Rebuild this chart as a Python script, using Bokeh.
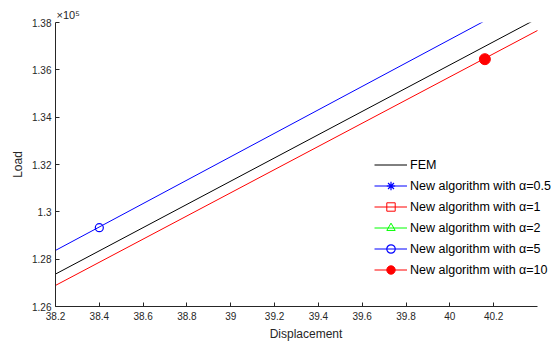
from bokeh.plotting import figure
from bokeh.models import Range1d, Legend, LegendItem, Title, CustomJSTickFormatter, FixedTicker, ColumnDataSource
from bokeh.embed import file_html
from bokeh.resources import INLINE

# Data (Load in units of 1e5)
fem_x = [38.2, 40.4]
fem_y = [1.2737, 1.3817]
a5_x = [38.2, 40.4]
a5_y = [1.2837, 1.3926]
a5_mx = [38.4]
a5_my = [1.2933]
a10_x = [38.2, 40.4]
a10_y = [1.2689, 1.3766]
a10_mx = [40.16]
a10_my = [1.3645]

x_ticks = [38.2, 38.4, 38.6, 38.8, 39.0, 39.2, 39.4, 39.6, 39.8, 40.0, 40.2]
y_ticks = [1.26, 1.28, 1.30, 1.32, 1.34, 1.36, 1.38]
labels = ["FEM", "New algorithm with \u03b1=0.5", "New algorithm with \u03b1=1",
          "New algorithm with \u03b1=2", "New algorithm with \u03b1=5", "New algorithm with \u03b1=10"]

FONT = "Liberation Sans"

p = figure(width=560, height=345, output_backend="svg", toolbar_location=None,
           x_range=Range1d(38.2, 40.487), y_range=Range1d(1.26, 1.38))
p.min_border_left = 55
p.min_border_right = 4
p.min_border_top = 22
p.min_border_bottom = 39
p.outline_line_color = None
p.grid.visible = False
p.background_fill_color = "white"

fmt = CustomJSTickFormatter(code="return String(Number(tick.toFixed(4)));")
for ax, ticks in ((p.xaxis, x_ticks), (p.yaxis, y_ticks)):
    ax.ticker = FixedTicker(ticks=ticks)
    ax.formatter = fmt
    ax.major_tick_in = 4
    ax.major_tick_out = 0
    ax.minor_tick_line_color = None
    ax.axis_line_color = "#262626"
    ax.major_tick_line_color = "#262626"
    ax.major_label_text_font = FONT
    ax.major_label_text_font_size = "10px"
    ax.major_label_text_color = "#262626"
    ax.axis_label_text_font = FONT
    ax.axis_label_text_font_size = "12px"
    ax.axis_label_text_font_style = "normal"
    ax.axis_label_text_color = "#262626"
p.xaxis.bounds = (38.2, 40.4)
p.xaxis.axis_label = "Displacement"
p.yaxis.axis_label = "Load"
p.xaxis.major_label_standoff = 5
p.xaxis.axis_label_standoff = 4
p.yaxis.major_label_standoff = 4
p.yaxis.axis_label_standoff = 4

r_fem = p.line(fem_x, fem_y, line_color="black", line_width=1)
# legend-only series (no visible points in view)
nan = float("nan")
empty = ColumnDataSource(data=dict(x=[nan], y=[nan]))
l05 = p.line("x", "y", source=empty, line_color="blue", line_width=1)
m05 = p.scatter("x", "y", source=empty, marker="asterisk", size=7, line_color="blue", line_width=1.2)
l1 = p.line("x", "y", source=empty, line_color="red", line_width=1)
m1 = p.scatter("x", "y", source=empty, marker="square", size=6, line_color="red", fill_color=None, line_width=1)
l2 = p.line("x", "y", source=empty, line_color="#00ff00", line_width=1)
m2 = p.scatter("x", "y", source=empty, marker="triangle", size=8, line_color="#00ff00", fill_color=None, line_width=1)

l5 = p.line(a5_x, a5_y, line_color="blue", line_width=1)
m5 = p.scatter(a5_mx, a5_my, marker="circle", size=8, line_color="blue", fill_color=None, line_width=1.2)
l10 = p.line(a10_x, a10_y, line_color="red", line_width=1)
m10 = p.scatter(a10_mx, a10_my, marker="circle", size=11, line_color="red", fill_color="red")

legend = Legend(items=[
    LegendItem(label=labels[0], renderers=[r_fem], index=0),
    LegendItem(label=labels[1], renderers=[l05, m05], index=0),
    LegendItem(label=labels[2], renderers=[l1, m1], index=0),
    LegendItem(label=labels[3], renderers=[l2, m2], index=0),
    LegendItem(label=labels[4], renderers=[l5, m5], index=0),
    LegendItem(label=labels[5], renderers=[l10, m10], index=0),
], location=(317, 24))
legend.border_line_alpha = 0
legend.background_fill_alpha = 0
legend.label_text_font = FONT
legend.label_text_font_size = "12.5px"
legend.label_text_color = "black"
legend.glyph_width = 33
legend.glyph_height = 21
legend.label_height = 14
legend.spacing = 0
legend.padding = 2
legend.margin = 0
legend.label_standoff = 3
p.add_layout(legend, "center")

p.add_layout(Title(text="\u00d710\u2075", align="left", offset=1, standoff=4,
                   text_font=FONT, text_font_size="11px", text_font_style="normal",
                   text_color="#262626"), "above")

open("out.html", "w").write(file_html(p, INLINE))
